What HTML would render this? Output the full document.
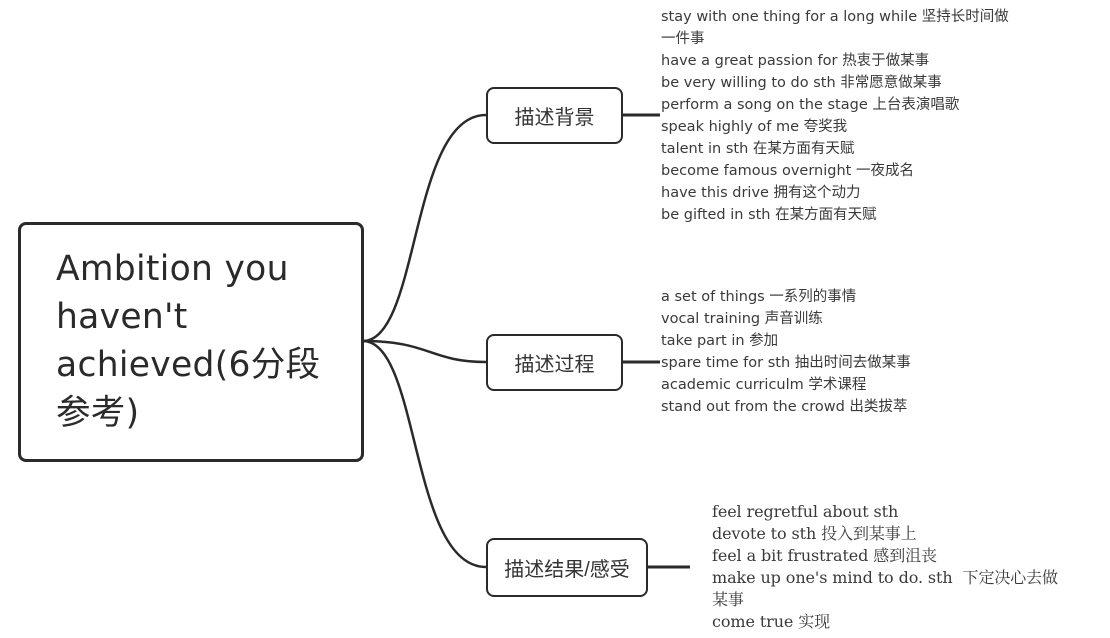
<!DOCTYPE html>
<html><head><meta charset="utf-8"><style>
body{margin:0;width:1110px;height:638px;background:#fff;position:relative;overflow:hidden;font-family:"DejaVu Sans","Noto Sans CJK SC",sans-serif;color:#333}
.box{position:absolute;border:2.5px solid #2a2a2a;border-radius:8px;background:#fff;box-sizing:border-box}
.b{display:flex;align-items:center;justify-content:center;font-size:20px;color:#333;font-family:"Liberation Sans","Noto Sans CJK SC",sans-serif}
.list{position:absolute;font-size:14.5px;line-height:22px;color:#3a3a3a;white-space:nowrap}
.serif{font-family:"DejaVu Serif","Noto Serif CJK SC",serif;font-size:16px;letter-spacing:-0.1px}
</style></head><body>
<svg width="1110" height="638" style="position:absolute;left:0;top:0">
<g fill="none" stroke="#2a2a2a" stroke-width="2.5">
<path d="M363 341 C420 341,410 115,486 115"/>
<path d="M363 341 C430 341,430 362,486 362"/>
<path d="M363 341 C420 341,410 567,486 567"/>
<path d="M622 115 H660" stroke-width="3"/>
<path d="M622 362 H660" stroke-width="3"/>
<path d="M647 567 H690" stroke-width="3"/>
</g></svg>
<div class="box" style="left:18px;top:222px;width:346px;height:240px;border-width:3px">
<div style="position:absolute;left:35px;top:20px;font-size:34.5px;line-height:48px;color:#2a2a2a;white-space:nowrap;letter-spacing:0.3px">Ambition you<br>haven't<br>achieved(6分段<br>参考)</div></div>
<div class="box b" style="left:486px;top:87px;width:137px;height:57px">描述背景</div>
<div class="box b" style="left:486px;top:334px;width:137px;height:57px">描述过程</div>
<div class="box b" style="left:486px;top:538px;width:162px;height:59px">描述结果/感受</div>
<div class="list" style="left:661px;top:6px">stay with one thing for a long while 坚持长时间做<br>一件事<br>have a great passion for 热衷于做某事<br>be very willing to do sth 非常愿意做某事<br>perform a song on the stage 上台表演唱歌<br>speak highly of me 夸奖我<br>talent in sth 在某方面有天赋<br>become famous overnight 一夜成名<br>have this drive 拥有这个动力<br>be gifted in sth 在某方面有天赋</div>
<div class="list" style="left:661px;top:286px">a set of things 一系列的事情<br>vocal training 声音训练<br>take part in 参加<br>spare time for sth 抽出时间去做某事<br>academic curriculm 学术课程<br>stand out from the crowd 出类拔萃</div>
<div class="list serif" style="left:712px;top:501px">feel regretful about sth<br>devote to sth 投入到某事上<br>feel a bit frustrated 感到沮丧<br>make up one's mind to do. sth &nbsp;下定决心去做<br>某事<br>come true 实现</div>
</body></html>
